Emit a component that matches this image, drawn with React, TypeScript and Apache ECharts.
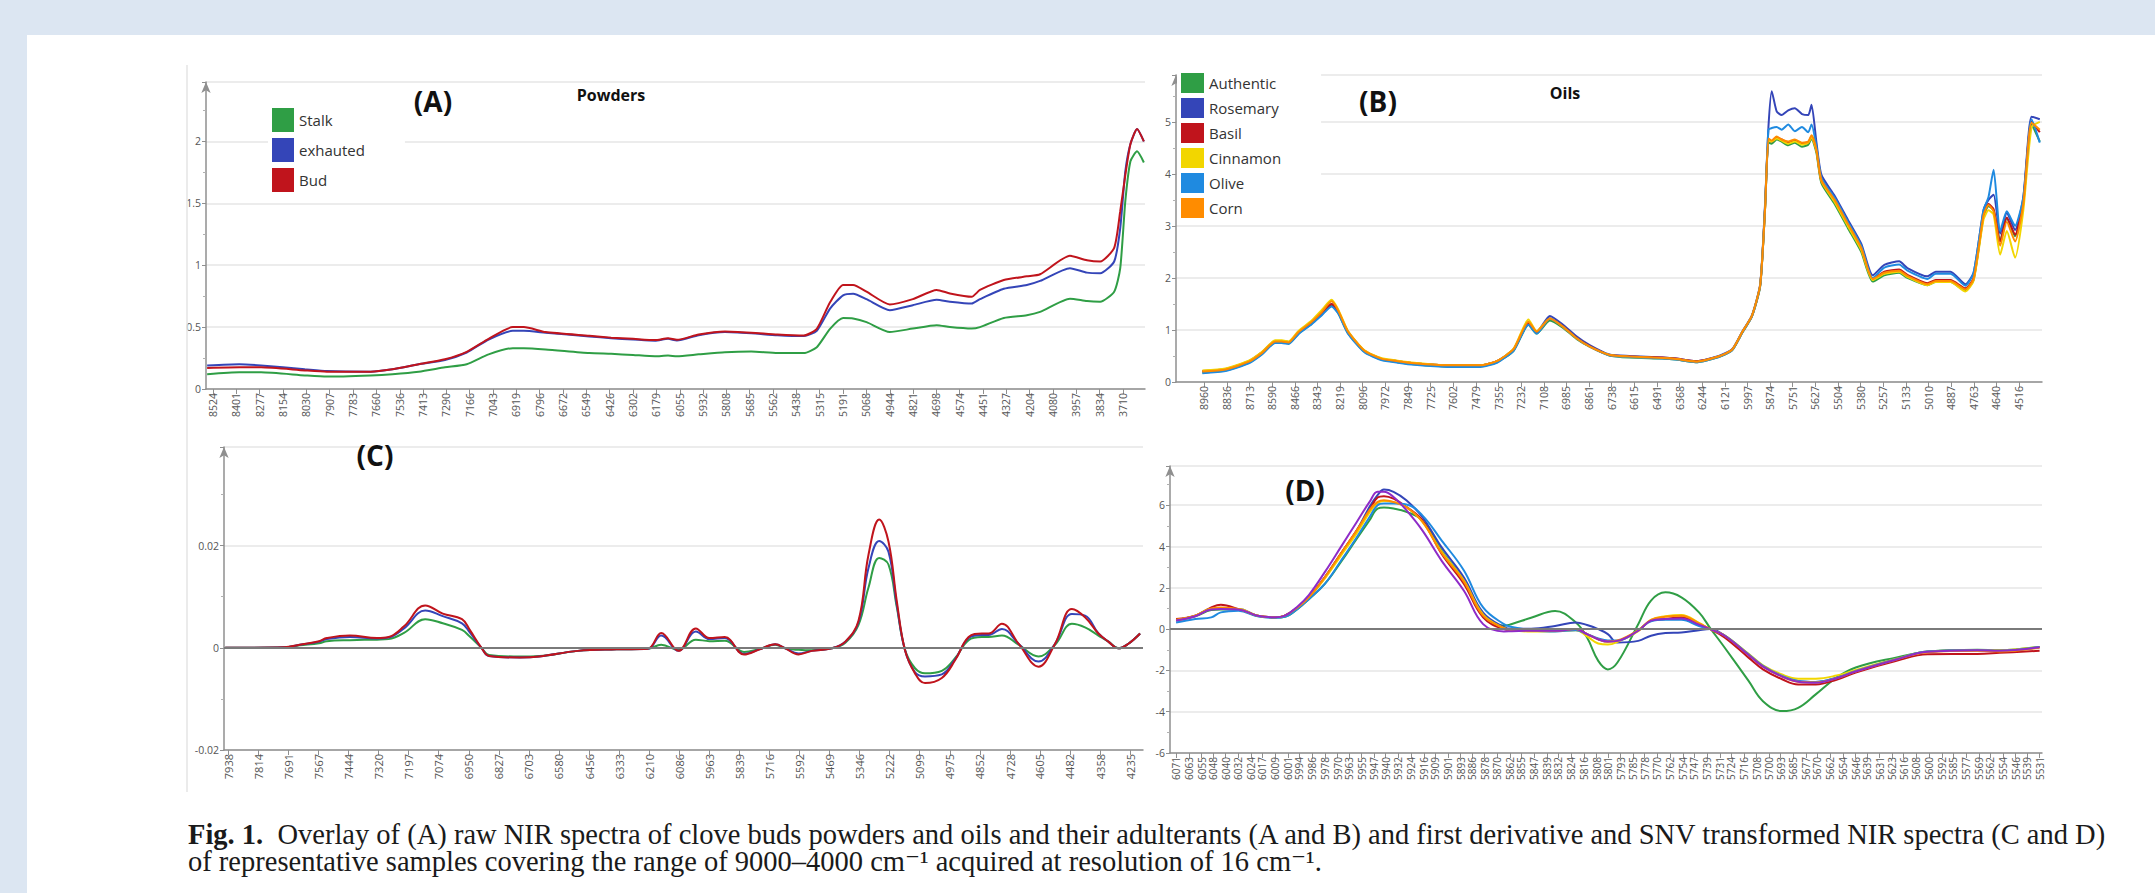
import React, { useEffect, useRef } from "react";
import * as echarts from "echarts";

// ---------- Panel A : powders, raw spectra ----------
const A_TICKS = [8524, 8401, 8277, 8154, 8030, 7907, 7783, 7660, 7536, 7413, 7290, 7166, 7043, 6919, 6796, 6672, 6549, 6426, 6302, 6179, 6055, 5932, 5808, 5685, 5562, 5438, 5315, 5191, 5068, 4944, 4821, 4698, 4574, 4451, 4327, 4204, 4080, 3957, 3834, 3710];
const A_WN = [8555, 8385, 8270, 8038, 7922, 7690, 7575, 7436, 7297, 7182, 7066, 6938, 6880, 6765, 6533, 6418, 6302, 6186, 6117, 6070, 5955, 5816, 5677, 5538, 5399, 5330, 5260, 5191, 5138, 5067, 4944, 4822, 4696, 4626, 4511, 4467, 4341, 4219, 4149, 3991, 3901, 3831, 3757, 3725, 3698, 3671, 3636, 3600];
const A_STALK = [0.12, 0.135, 0.135, 0.11, 0.10, 0.11, 0.12, 0.14, 0.175, 0.2, 0.28, 0.33, 0.33, 0.32, 0.29, 0.284, 0.275, 0.265, 0.27, 0.265, 0.28, 0.297, 0.303, 0.29, 0.29, 0.338, 0.486, 0.573, 0.57, 0.54, 0.46, 0.488, 0.515, 0.50, 0.488, 0.50, 0.574, 0.596, 0.623, 0.73, 0.71, 0.705, 0.786, 0.976, 1.52, 1.84, 1.92, 1.83];
const A_EXHAUTED = [0.19, 0.2, 0.19, 0.16, 0.145, 0.14, 0.16, 0.2, 0.235, 0.295, 0.40, 0.47, 0.47, 0.455, 0.425, 0.41, 0.40, 0.39, 0.405, 0.392, 0.435, 0.46, 0.45, 0.435, 0.428, 0.47, 0.65, 0.757, 0.77, 0.726, 0.637, 0.677, 0.72, 0.705, 0.69, 0.726, 0.81, 0.84, 0.873, 0.976, 0.94, 0.935, 1.03, 1.30, 1.76, 1.98, 2.10, 2.0];
const A_BUD = [0.17, 0.175, 0.175, 0.15, 0.14, 0.14, 0.16, 0.2, 0.24, 0.3, 0.405, 0.5, 0.5, 0.46, 0.43, 0.415, 0.405, 0.395, 0.41, 0.397, 0.44, 0.465, 0.455, 0.44, 0.432, 0.486, 0.70, 0.84, 0.84, 0.786, 0.683, 0.726, 0.80, 0.772, 0.745, 0.80, 0.88, 0.91, 0.927, 1.076, 1.04, 1.03, 1.14, 1.436, 1.73, 1.98, 2.10, 2.0];

// ---------- Panel B : oils, raw spectra ----------
const B_TICKS = [8960, 8836, 8713, 8590, 8466, 8343, 8219, 8096, 7972, 7849, 7725, 7602, 7479, 7355, 7232, 7108, 6985, 6861, 6738, 6615, 6491, 6368, 6244, 6121, 5997, 5874, 5751, 5627, 5504, 5380, 5257, 5133, 5010, 4887, 4763, 4640, 4516];
const B_WN = [8970, 8844, 8717, 8645, 8573, 8537, 8500, 8446, 8374, 8320, 8266, 8230, 8176, 8086, 7995, 7905, 7815, 7634, 7454, 7364, 7273, 7192, 7147, 7075, 7003, 6930, 6858, 6750, 6641, 6461, 6388, 6280, 6154, 6081, 6027, 5973, 5928, 5901, 5883, 5865, 5838, 5811, 5775, 5739, 5700, 5666, 5648, 5621, 5594, 5522, 5450, 5377, 5314, 5251, 5170, 5125, 5016, 4971, 4890, 4809, 4764, 4710, 4683, 4655, 4619, 4583, 4538, 4493, 4448, 4403];
const B_AUTHENTIC = [0.18, 0.22, 0.37, 0.54, 0.76, 0.76, 0.74, 0.93, 1.12, 1.29, 1.47, 1.33, 0.94, 0.58, 0.43, 0.38, 0.34, 0.30, 0.30, 0.38, 0.60, 1.10, 0.93, 1.18, 1.04, 0.83, 0.68, 0.51, 0.47, 0.45, 0.43, 0.38, 0.48, 0.61, 0.94, 1.26, 1.84, 3.35, 4.60, 4.58, 4.66, 4.62, 4.55, 4.60, 4.52, 4.56, 4.68, 4.40, 3.82, 3.42, 2.96, 2.50, 1.93, 2.05, 2.10, 2.00, 1.86, 1.92, 1.92, 1.76, 1.96, 3.18, 3.38, 3.30, 2.72, 3.15, 2.80, 3.45, 4.95, 4.62];
const B_ROSEMARY = [0.20, 0.24, 0.39, 0.57, 0.79, 0.79, 0.77, 0.96, 1.15, 1.32, 1.50, 1.36, 0.97, 0.60, 0.45, 0.40, 0.36, 0.32, 0.32, 0.40, 0.63, 1.12, 0.97, 1.27, 1.10, 0.88, 0.71, 0.53, 0.50, 0.47, 0.45, 0.40, 0.50, 0.63, 0.96, 1.28, 1.88, 3.45, 4.90, 5.59, 5.20, 5.13, 5.22, 5.26, 5.15, 5.13, 5.33, 4.60, 3.98, 3.58, 3.12, 2.66, 2.05, 2.25, 2.32, 2.19, 2.03, 2.12, 2.12, 1.88, 2.10, 3.30, 3.50, 3.60, 2.85, 3.25, 2.92, 3.55, 5.10, 5.05];
const B_BASIL = [0.21, 0.25, 0.40, 0.57, 0.78, 0.78, 0.76, 0.95, 1.14, 1.31, 1.50, 1.35, 0.96, 0.60, 0.45, 0.40, 0.36, 0.32, 0.32, 0.40, 0.62, 1.13, 0.95, 1.22, 1.07, 0.85, 0.69, 0.52, 0.49, 0.47, 0.45, 0.40, 0.49, 0.62, 0.95, 1.27, 1.86, 3.37, 4.65, 4.62, 4.70, 4.66, 4.60, 4.64, 4.58, 4.60, 4.72, 4.45, 3.86, 3.48, 3.02, 2.56, 1.98, 2.12, 2.16, 2.06, 1.90, 1.96, 1.96, 1.80, 2.00, 3.22, 3.42, 3.32, 2.70, 3.16, 2.83, 3.48, 5.00, 4.80];
const B_CINNAMON = [0.22, 0.26, 0.41, 0.58, 0.80, 0.80, 0.78, 0.98, 1.18, 1.38, 1.58, 1.40, 0.98, 0.61, 0.46, 0.41, 0.37, 0.32, 0.32, 0.40, 0.64, 1.20, 0.98, 1.22, 1.06, 0.84, 0.68, 0.52, 0.48, 0.46, 0.44, 0.39, 0.49, 0.62, 0.95, 1.27, 1.86, 3.36, 4.64, 4.62, 4.68, 4.64, 4.58, 4.62, 4.56, 4.60, 4.70, 4.44, 3.86, 3.46, 3.00, 2.54, 1.96, 2.08, 2.12, 2.02, 1.86, 1.92, 1.92, 1.74, 1.95, 3.12, 3.30, 3.22, 2.45, 2.90, 2.39, 3.30, 4.90, 5.00];
const B_OLIVE = [0.17, 0.21, 0.36, 0.53, 0.75, 0.75, 0.73, 0.92, 1.11, 1.28, 1.45, 1.32, 0.93, 0.57, 0.42, 0.37, 0.33, 0.29, 0.29, 0.37, 0.60, 1.10, 0.93, 1.22, 1.06, 0.84, 0.68, 0.51, 0.48, 0.45, 0.43, 0.38, 0.48, 0.61, 0.94, 1.26, 1.85, 3.40, 4.85, 4.88, 4.90, 4.85, 4.95, 4.82, 4.90, 4.80, 4.95, 4.52, 3.92, 3.54, 3.08, 2.62, 2.00, 2.20, 2.26, 2.14, 1.98, 2.08, 2.08, 1.85, 2.10, 3.30, 3.55, 4.08, 2.90, 3.28, 3.00, 3.55, 5.05, 4.60];
const B_CORN = [0.20, 0.24, 0.39, 0.56, 0.78, 0.78, 0.76, 0.96, 1.16, 1.34, 1.55, 1.38, 0.97, 0.60, 0.45, 0.40, 0.36, 0.32, 0.32, 0.40, 0.63, 1.16, 0.97, 1.22, 1.06, 0.84, 0.68, 0.52, 0.49, 0.46, 0.44, 0.39, 0.49, 0.62, 0.95, 1.27, 1.86, 3.36, 4.68, 4.64, 4.72, 4.66, 4.62, 4.66, 4.60, 4.62, 4.74, 4.46, 3.88, 3.50, 3.04, 2.58, 1.98, 2.10, 2.14, 2.04, 1.88, 1.94, 1.94, 1.78, 1.98, 3.20, 3.40, 3.28, 2.62, 3.08, 2.70, 3.42, 4.98, 4.85];

// ---------- Panel C : powders, first derivative ----------
const C_TICKS = [7938, 7814, 7691, 7567, 7444, 7320, 7197, 7074, 6950, 6827, 6703, 6580, 6456, 6333, 6210, 6086, 5963, 5839, 5716, 5592, 5469, 5346, 5222, 5099, 4975, 4852, 4728, 4605, 4482, 4358, 4235];
const C_WN = [7950, 7708, 7644, 7565, 7533, 7438, 7327, 7279, 7216, 7129, 7057, 6978, 6946, 6898, 6867, 6740, 6660, 6502, 6343, 6216, 6160, 6089, 6018, 5962, 5899, 5820, 5756, 5692, 5651, 5596, 5542, 5460, 5404, 5350, 5309, 5265, 5227, 5193, 5159, 5118, 5077, 5008, 4953, 4898, 4844, 4816, 4761, 4693, 4611, 4543, 4474, 4420, 4365, 4324, 4283, 4242, 4194];
const C_STALK = [0, 0.0001, 0.0005, 0.0009, 0.0013, 0.0015, 0.0016, 0.0017, 0.0029, 0.0056, 0.0048, 0.0035, 0.0022, 0, -0.0014, -0.0017, -0.0016, -0.0006, -0.0003, -0.0002, 0.0006, -0.0004, 0.0016, 0.0013, 0.0014, -0.0008, -0.0002, 0.0006, -0.0001, -0.0004, -0.0005, -0.0001, 0.0010, 0.0045, 0.0118, 0.0176, 0.0163, 0.0080, -0.0004, -0.004, -0.005, -0.0045, -0.002, 0.0015, 0.0021, 0.0021, 0.0024, 0.0006, -0.0017, 0.0006, 0.0047, 0.004, 0.0024, 0.0012, -0.0001, 0.0008, 0.0028];
const C_EXHAUTED = [0, 0.0001, 0.0006, 0.0012, 0.0017, 0.0021, 0.0018, 0.0020, 0.0038, 0.0073, 0.0062, 0.0048, 0.0030, 0, -0.0016, -0.0019, -0.0017, -0.0006, -0.0003, -0.0002, 0.0024, -0.0006, 0.0032, 0.0017, 0.0019, -0.0012, -0.0003, 0.0007, -0.0001, -0.0011, -0.0006, -0.0001, 0.0012, 0.0050, 0.0156, 0.0209, 0.0188, 0.0085, -0.0005, -0.0048, -0.0056, -0.0052, -0.0022, 0.0019, 0.0025, 0.0025, 0.0037, 0.0008, -0.0027, 0.0008, 0.0066, 0.0063, 0.0028, 0.0012, -0.0001, 0.0008, 0.0028];
const C_BUD = [0, 0.0001, 0.0006, 0.0013, 0.0019, 0.0024, 0.0019, 0.0021, 0.0042, 0.0083, 0.0067, 0.0056, 0.0035, 0, -0.0016, -0.0019, -0.0017, -0.0006, -0.0003, -0.0002, 0.0029, -0.0006, 0.0038, 0.0019, 0.0021, -0.0013, -0.0003, 0.0007, -0.0001, -0.0013, -0.0006, -0.0001, 0.0012, 0.0053, 0.0182, 0.0251, 0.0208, 0.0092, -0.0005, -0.005, -0.0069, -0.0059, -0.0024, 0.0021, 0.0028, 0.0028, 0.0047, 0.0008, -0.0037, 0.0008, 0.0076, 0.006, 0.0028, 0.0012, -0.0001, 0.0008, 0.0028];

// ---------- Panel D : oils, SNV ----------
const D_TICKS = [6071, 6063, 6055, 6048, 6040, 6032, 6024, 6017, 6009, 6001, 5994, 5986, 5978, 5970, 5963, 5955, 5947, 5940, 5932, 5924, 5916, 5909, 5901, 5893, 5886, 5878, 5870, 5862, 5855, 5847, 5839, 5832, 5824, 5816, 5808, 5801, 5793, 5785, 5778, 5770, 5762, 5754, 5747, 5739, 5731, 5724, 5716, 5708, 5700, 5693, 5685, 5677, 5670, 5662, 5654, 5646, 5639, 5631, 5623, 5616, 5608, 5600, 5592, 5585, 5577, 5569, 5562, 5554, 5546, 5539, 5531];
const D_WN = [6071, 6059, 6049, 6043, 6032, 6020, 6009, 6003, 5995, 5988, 5978, 5968, 5958, 5950, 5945, 5941, 5935, 5927, 5917, 5905, 5891, 5879, 5866, 5861, 5849, 5834, 5821, 5814, 5807, 5801, 5795, 5782, 5774, 5765, 5755, 5744, 5737, 5728, 5713, 5704, 5692, 5682, 5671, 5658, 5646, 5621, 5601, 5570, 5556, 5531];
const D_AUTHENTIC = [0.42, 0.62, 0.92, 0.95, 0.95, 0.63, 0.56, 0.60, 0.98, 1.45, 2.19, 3.24, 4.38, 5.27, 5.84, 5.89, 5.84, 5.68, 5.27, 3.81, 2.35, 0.73, 0.16, 0.25, 0.55, 0.88, 0.32, -0.41, -1.54, -1.95, -1.62, 0.24, 1.38, 1.78, 1.54, 0.81, 0.05, -0.89, -2.51, -3.49, -3.97, -3.81, -3.16, -2.35, -1.86, -1.38, -1.09, -1.00, -1.02, -0.86];
const D_ROSEMARY = [0.44, 0.65, 0.97, 0.97, 0.97, 0.65, 0.57, 0.65, 1.05, 1.54, 2.51, 3.65, 4.78, 5.92, 6.49, 6.76, 6.65, 6.24, 5.43, 3.97, 2.50, 0.80, 0.10, 0.02, 0.02, 0.15, 0.32, 0.20, 0.00, -0.24, -0.65, -0.57, -0.32, -0.19, -0.16, -0.05, 0.0, -0.32, -1.22, -1.78, -2.27, -2.51, -2.56, -2.35, -2.03, -1.46, -1.09, -1.02, -1.05, -0.86];
const D_BASIL = [0.49, 0.65, 1.05, 1.18, 0.97, 0.65, 0.57, 0.65, 1.05, 1.54, 2.51, 3.65, 4.78, 5.76, 6.37, 6.44, 6.32, 5.92, 5.27, 3.65, 2.19, 0.57, 0.0, -0.05, -0.08, -0.08, 0.0, -0.24, -0.49, -0.6, -0.57, -0.08, 0.41, 0.49, 0.57, 0.24, 0.0, -0.40, -1.38, -1.95, -2.43, -2.68, -2.68, -2.45, -2.10, -1.55, -1.22, -1.20, -1.15, -1.05];
const D_CINNAMON = [0.44, 0.65, 0.97, 0.97, 0.97, 0.65, 0.57, 0.65, 1.05, 1.54, 2.45, 3.55, 4.65, 5.65, 6.10, 6.20, 6.15, 5.90, 5.20, 3.75, 2.35, 0.70, 0.05, -0.05, -0.12, -0.10, -0.05, -0.35, -0.70, -0.75, -0.62, -0.10, 0.45, 0.62, 0.68, 0.30, 0.0, -0.30, -1.20, -1.75, -2.20, -2.40, -2.40, -2.25, -1.98, -1.45, -1.09, -1.02, -1.02, -0.86];
const D_OLIVE = [0.32, 0.49, 0.57, 0.81, 0.89, 0.62, 0.55, 0.60, 0.98, 1.45, 2.19, 3.30, 4.45, 5.43, 6.0, 6.08, 6.08, 6.04, 5.51, 4.30, 2.84, 1.05, 0.24, 0.10, -0.05, -0.12, -0.05, -0.24, -0.45, -0.55, -0.55, -0.05, 0.38, 0.45, 0.45, 0.15, 0.0, -0.30, -1.22, -1.78, -2.27, -2.51, -2.56, -2.35, -2.03, -1.46, -1.09, -1.02, -1.05, -0.86];
const D_CORN = [0.44, 0.65, 1.00, 1.05, 0.97, 0.65, 0.57, 0.65, 1.05, 1.54, 2.51, 3.65, 4.78, 5.76, 6.16, 6.24, 6.16, 5.90, 5.20, 3.70, 2.30, 0.65, 0.05, -0.02, -0.08, -0.08, 0.0, -0.24, -0.49, -0.60, -0.55, -0.05, 0.45, 0.60, 0.65, 0.28, 0.0, -0.32, -1.25, -1.82, -2.30, -2.55, -2.58, -2.38, -2.05, -1.48, -1.12, -1.05, -1.08, -0.90];
const D_SAMPLE7 = [0.42, 0.62, 0.95, 0.97, 0.95, 0.65, 0.57, 0.65, 1.10, 1.65, 2.76, 3.97, 5.19, 6.16, 6.65, 6.65, 6.40, 5.76, 4.78, 3.32, 1.86, 0.24, -0.11, -0.10, -0.08, -0.08, 0.0, -0.24, -0.49, -0.6, -0.57, -0.08, 0.41, 0.49, 0.52, 0.22, 0.0, -0.32, -1.25, -1.82, -2.30, -2.55, -2.60, -2.38, -2.05, -1.48, -1.10, -1.02, -1.05, -0.88];

const POWDER_NAMES = ["Stalk", "exhauted", "Bud"];
const OIL_NAMES = ["Authentic", "Rosemary", "Basil", "Cinnamon", "Olive", "Corn"];
const CAPTION_1 = "Overlay of (A) raw NIR spectra of clove buds powders and oils and their adulterants (A and B) and first derivative and SNV transformed NIR spectra (C and D)";
const CAPTION_2 = "of representative samples covering the range of 9000\u20134000 cm\u207B\u00B9 acquired at resolution of 16 cm\u207B\u00B9.";

const COL = {
  green: "#2f9e45",
  blue: "#3445b8",
  red: "#c0141c",
  yellow: "#f2d600",
  olive: "#1f8ae0",
  orange: "#ff8c00",
  purple: "#8e2bc8",
};

const SANS = '"Open Sans", "Noto Sans", sans-serif';
const SERIF = '"Liberation Serif", "DejaVu Serif", serif';
const AX = "#8f8f8f";

const zip = (xs: number[], ys: number[]) => xs.map((x, i) => [x, ys[i]]);

function xAxis(gridIndex: number, min: number, max: number, ticks: number[], fontSize: number) {
  return {
    type: "value",
    gridIndex,
    min,
    max,
    inverse: true,
    axisLine: { show: true, onZero: false, lineStyle: { color: AX, width: 1.5 } },
    axisTick: { show: true, customValues: ticks, length: 5, lineStyle: { color: AX } },
    axisLabel: {
      customValues: ticks,
      rotate: 90,
      fontSize,
      color: "#555",
      fontFamily: SANS,
      margin: 4,
      formatter: (v: number) => String(Math.round(v)),
    },
    splitLine: { show: false },
  };
}

function yAxis(gridIndex: number, min: number, max: number, interval: number) {
  return {
    type: "value",
    gridIndex,
    min,
    max,
    interval,
    axisLine: {
      show: true,
      onZero: false,
      lineStyle: { color: AX, width: 1.5 },
      symbol: ["none", "arrow"],
      symbolSize: [7, 11],
    },
    axisTick: { show: true, length: 4, lineStyle: { color: AX } },
    minorTick: { show: true, splitNumber: 2, length: 3, lineStyle: { color: "#b0b0b0" } },
    splitLine: { show: true, lineStyle: { color: "#e6e6e6", width: 1.5 } },
    axisLabel: { color: "#555", fontSize: 10.5, fontFamily: SANS, margin: 5, showMaxLabel: false },
  };
}

function line(name: string, idx: number, wn: number[], vals: number[], color: string, smooth: number, width = 2) {
  return {
    type: "line",
    name,
    xAxisIndex: idx,
    yAxisIndex: idx,
    data: zip(wn, vals),
    showSymbol: false,
    smooth,
    color,
    itemStyle: { color },
    lineStyle: { color, width },
    silent: true,
  };
}

const zeroLine = {
  silent: true,
  symbol: "none",
  label: { show: false },
  lineStyle: { color: "#7a7a7a", type: "solid", width: 2 },
  data: [{ yAxis: 0 }],
};

function text(x: number, y: number, t: string, size: number, weight: string, align = "center") {
  return {
    type: "text",
    x,
    y,
    z: 100,
    style: {
      text: t,
      fontSize: size,
      fontWeight: weight,
      fontFamily: SANS,
      fill: "#111",
      align,
      verticalAlign: "middle",
      textAlign: align,
      textVerticalAlign: "middle",
    },
  };
}

function buildOption() {
  const series: any[] = [
    line("Stalk", 0, A_WN, A_STALK, COL.green, 0.2),
    line("exhauted", 0, A_WN, A_EXHAUTED, COL.blue, 0.2),
    line("Bud", 0, A_WN, A_BUD, COL.red, 0.2),

    line("Authentic", 1, B_WN, B_AUTHENTIC, COL.green, 0.2),
    line("Rosemary", 1, B_WN, B_ROSEMARY, COL.blue, 0.2),
    line("Basil", 1, B_WN, B_BASIL, COL.red, 0.2),
    line("Cinnamon", 1, B_WN, B_CINNAMON, COL.yellow, 0.2),
    line("Olive", 1, B_WN, B_OLIVE, COL.olive, 0.2),
    line("Corn", 1, B_WN, B_CORN, COL.orange, 0.2),

    { ...line("Stalk", 2, C_WN, C_STALK, COL.green, 0.4), markLine: zeroLine },
    line("exhauted", 2, C_WN, C_EXHAUTED, COL.blue, 0.4),
    line("Bud", 2, C_WN, C_BUD, COL.red, 0.4),

    { ...line("Authentic", 3, D_WN, D_AUTHENTIC, COL.green, 0.4), markLine: zeroLine },
    line("Rosemary", 3, D_WN, D_ROSEMARY, COL.blue, 0.4),
    line("Basil", 3, D_WN, D_BASIL, COL.red, 0.4),
    line("Cinnamon", 3, D_WN, D_CINNAMON, COL.yellow, 0.4),
    line("Olive", 3, D_WN, D_OLIVE, COL.olive, 0.4),
    line("Corn", 3, D_WN, D_CORN, COL.orange, 0.4),
    line("Sample 7", 3, D_WN, D_SAMPLE7, COL.purple, 0.4),
  ];

  return {
    animation: false,
    backgroundColor: "transparent",
    textStyle: { fontFamily: SANS },
    grid: [
      { left: 206, top: 82, width: 939, height: 307 },
      { left: 1176, top: 75, width: 866, height: 307 },
      { left: 224, top: 447, width: 919, height: 303 },
      { left: 1170, top: 466, width: 872, height: 287 },
    ],
    xAxis: [
      xAxis(0, 3594, 8561, A_TICKS, 10.5),
      xAxis(1, 4391, 9114, B_TICKS, 10.5),
      xAxis(2, 4182, 7955, C_TICKS, 11),
      xAxis(3, 5529.5, 6074.8, D_TICKS, 10),
    ],
    yAxis: [
      yAxis(0, 0, 2.48, 0.5),
      yAxis(1, 0, 5.9, 1),
      yAxis(2, -0.02, 0.0393, 0.02),
      yAxis(3, -6, 7.9, 2),
    ],
    legend: [
      {
        data: POWDER_NAMES,
        orient: "vertical",
        left: 268,
        top: 104,
        icon: "rect",
        itemWidth: 22,
        itemHeight: 24,
        itemGap: 6,
        selectedMode: false,
        backgroundColor: "#fff",
        padding: [4, 40, 4, 4],
        textStyle: { fontSize: 15, color: "#333", fontFamily: SANS },
      },
      {
        data: OIL_NAMES,
        orient: "vertical",
        left: 1177,
        top: 69,
        icon: "rect",
        itemWidth: 23,
        itemHeight: 20,
        itemGap: 5,
        selectedMode: false,
        backgroundColor: "#fff",
        padding: [4, 40, 4, 4],
        textStyle: { fontSize: 15, color: "#333", fontFamily: SANS },
      },
    ],
    graphic: [
      {
        type: "line",
        shape: { x1: 187, y1: 65, x2: 187, y2: 792 },
        style: { stroke: "#e4e4e4", lineWidth: 1.5 },
        z: 1,
      },
      text(433, 101, "(A)", 28, "bold"),
      text(611, 95, "Powders", 16, "bold"),
      text(1378, 101, "(B)", 28, "bold"),
      text(1565, 93, "Oils", 16, "bold"),
      text(375, 455, "(C)", 28, "bold"),
      text(1305, 490, "(D)", 28, "bold"),
      {
        type: "text",
        x: 188,
        y: 834,
        z: 100,
        style: {
          text: "{b|Fig. 1.}  " + CAPTION_1,
          fontSize: 28.5,
          fontFamily: SERIF,
          fill: "#1a1a1a",
          align: "left",
          verticalAlign: "middle",
          textAlign: "left",
          textVerticalAlign: "middle",
          rich: {
            b: {
              fontSize: 28.5,
              fontWeight: "bold",
              fontFamily: SERIF,
              fill: "#1a1a1a",
              color: "#1a1a1a",
            },
          },
        },
      },
      {
        type: "text",
        x: 188,
        y: 861,
        z: 100,
        style: {
          text: CAPTION_2,
          fontSize: 28.5,
          fontFamily: SERIF,
          fill: "#1a1a1a",
          align: "left",
          verticalAlign: "middle",
          textAlign: "left",
          textVerticalAlign: "middle",
        },
      },
    ],
    series,
  };
}

export default function App() {
  const ref = useRef<HTMLDivElement>(null);
  useEffect(() => {
    if (!ref.current) return;
    const chart = echarts.init(ref.current, null, { renderer: "svg", width: 2155, height: 893 });
    chart.setOption(buildOption() as any);
    return () => {
      chart.dispose();
    };
  }, []);
  return (
    <div
      style={{
        position: "fixed",
        left: 0,
        top: 0,
        width: 2155,
        height: 893,
        background: "#dce6f2",
        overflow: "hidden",
      }}
    >
      <div style={{ position: "absolute", left: 27, top: 35, width: 2128, height: 858, background: "#ffffff" }} />
      <div ref={ref} style={{ position: "absolute", left: 0, top: 0, width: 2155, height: 893 }} />
    </div>
  );
}
